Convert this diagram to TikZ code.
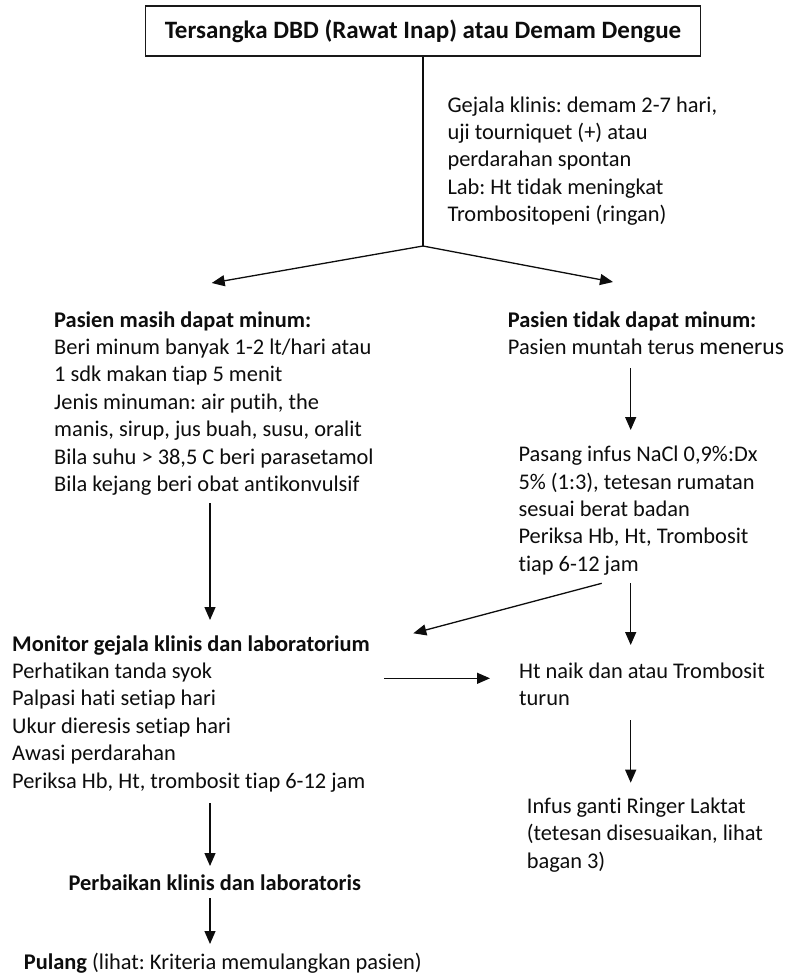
\documentclass[tikz,border=0pt]{standalone}
\usepackage{fontspec}
\setmainfont{Carlito}[Ligatures=NoCommon]
\usetikzlibrary{arrows.meta}
\frenchspacing
% left-aligned block of lines whose baseline is the first line
\newcommand{\lineblock}[1]{\begin{tabular}[t]{@{}l@{}}#1\end{tabular}}

\tikzset{
  txt/.style={anchor=base west, inner sep=0pt, text=black!95,
              font=\fontsize{22.4}{27.4}\selectfont},
  ctxt/.style={txt, anchor=base},
  titlebox/.style={draw=black!90, line width=1.4pt, inner sep=0pt,
              minimum width=555pt, minimum height=50pt, text=black!95,
              font=\fontsize{25}{30}\selectfont\bfseries},
  link/.style={line width=1.3pt, draw=black!95},
  flow/.style={link, -{Triangle[length=13pt,width=11pt]}}
}

\begin{document}
\begin{tikzpicture}[x=1pt, y=-1pt]
  \fill[white] (0,0) rectangle (797,978);
  \useasboundingbox (0,0) rectangle (797,978);

  % title
  \node[titlebox] (title) at (423,31) {Tersangka DBD (Rawat Inap) atau Demam Dengue};

  % clinical criteria beside the trunk
  \node[txt] (criteria) at (447.3,112) {\lineblock{%
    Gejala klinis: demam 2-7 hari,\\
    uji tourniquet (+) atau\\
    perdarahan spontan\\
    Lab: Ht tidak meningkat\\
    Trombositopeni (ringan)}};

  % left branch: patient can still drink
  \node[txt] (drink) at (54,327) {\lineblock{%
    \textbf{Pasien masih dapat minum:}\\
    Beri minum banyak 1-2 lt/hari atau\\
    1 sdk makan tiap 5 menit\\
    Jenis minuman: air putih, the\\
    manis, sirup, jus buah, susu, oralit\\
    Bila suhu > 38,5 C beri parasetamol\\
    Bila kejang beri obat antikonvulsif}};

  % right branch: patient cannot drink
  \node[txt] (nodrink) at (507.7,327) {\lineblock{%
    \textbf{Pasien tidak dapat minum:}\\
    Pasien muntah terus {\fontsize{23.6}{27.4}\selectfont menerus}}};

  \node[txt] (infus) at (518.3,461.7) {\lineblock{%
    Pasang infus NaCl 0,9\%:Dx\\
    5\% (1:3), tetesan rumatan\\
    sesuai berat badan\\
    Periksa Hb, Ht, Trombosit\\
    tiap 6-12 jam}};

  % monitoring
  \node[txt] (monitor) at (12,651) {\lineblock{%
    \textbf{Monitor gejala klinis dan laboratorium}\\
    Perhatikan tanda syok\\
    Palpasi hati setiap hari\\
    Ukur dieresis setiap hari\\
    Awasi perdarahan\\
    Periksa Hb, Ht, trombosit tiap 6-12 jam}};

  \node[txt] (htnaik) at (519,678.3) {\lineblock{%
    Ht naik dan atau Trombosit\\
    turun}};

  \node[txt] (rl) at (526.7,813.3) {\lineblock{%
    Infus ganti Ringer Laktat\\
    (tetesan disesuaikan, lihat\\
    bagan 3)}};

  \node[ctxt] (better) at (214.7,890) {\textbf{Perbaikan klinis dan laboratoris}};

  \node[txt] (home) at (23.7,969) {\textbf{Pulang} (lihat: Kriteria memulangkan pasien)};

  % connector end points
  \coordinate (fork)     at (423,246);
  \coordinate (forkL)    at (211.7,283);
  \coordinate (forkR)    at (613,282);
  \coordinate (drinkOut) at (210,503.3);
  \coordinate (monIn)    at (210,620);
  \coordinate (ndOut)    at (630.7,368.3);
  \coordinate (infIn)    at (630.7,430);
  \coordinate (infOutA)  at (601.7,583.3);
  \coordinate (monInB)   at (413.3,633.3);
  \coordinate (infOutB)  at (630.7,583);
  \coordinate (htIn)     at (630.7,645);
  \coordinate (monOut)   at (384.3,678.3);
  \coordinate (htInB)    at (490,678.3);
  \coordinate (htOut)    at (630.7,720);
  \coordinate (rlIn)     at (630.7,782.7);
  \coordinate (monDown)  at (210,803.3);
  \coordinate (betterIn) at (210,866);
  \coordinate (betterOut) at (210,898.3);
  \coordinate (homeIn)   at (210,944);

  % connectors
  \draw[link] (title.south -| fork) -- (fork);
  \draw[flow] (fork) -- (forkL);
  \draw[flow] (fork) -- (forkR);
  \draw[flow] (drinkOut) -- (monIn);
  \draw[flow] (ndOut) -- (infIn);
  \draw[flow] (infOutA) -- (monInB);
  \draw[flow] (infOutB) -- (htIn);
  \draw[flow] (monOut) -- (htInB);
  \draw[flow] (htOut) -- (rlIn);
  \draw[flow] (monDown) -- (betterIn);
  \draw[flow] (betterOut) -- (homeIn);
\end{tikzpicture}
\end{document}
